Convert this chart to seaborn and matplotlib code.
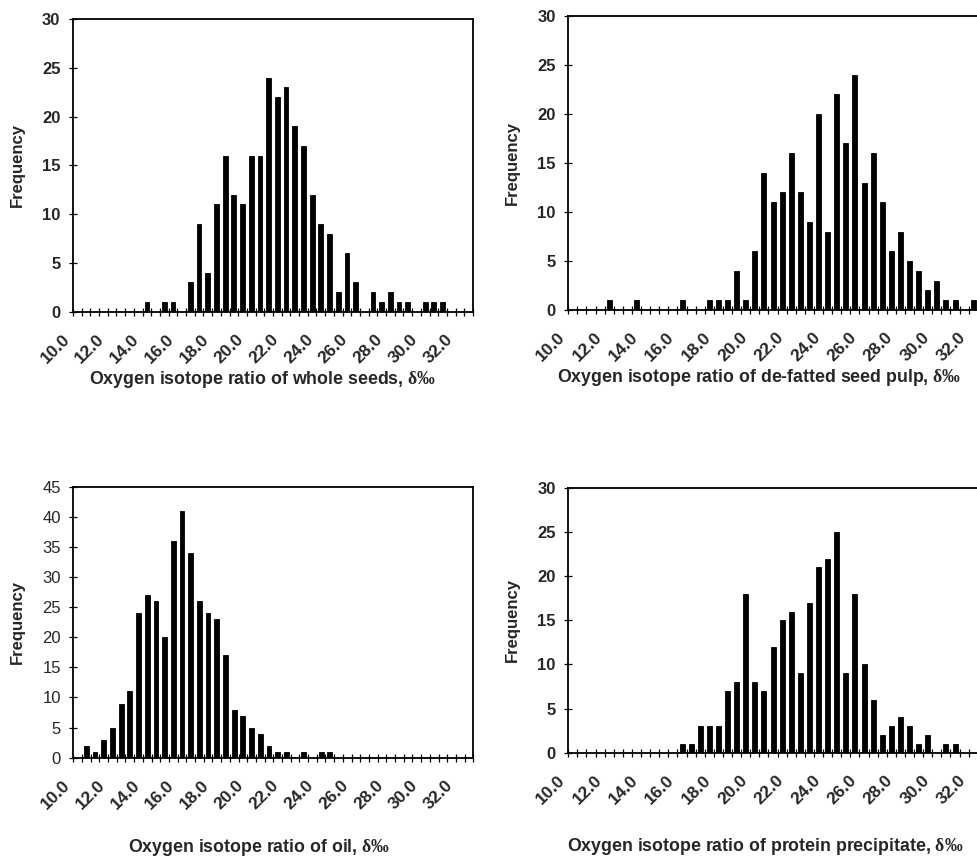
import matplotlib
matplotlib.use("Agg")
import matplotlib.pyplot as plt
import seaborn as sns
import pandas as pd
from matplotlib.transforms import ScaledTranslation

bins = ["10.0", "10.5", "11.0", "11.5", "12.0", "12.5", "13.0", "13.5", "14.0", "14.5",
        "15.0", "15.5", "16.0", "16.5", "17.0", "17.5", "18.0", "18.5", "19.0", "19.5",
        "20.0", "20.5", "21.0", "21.5", "22.0", "22.5", "23.0", "23.5", "24.0", "24.5",
        "25.0", "25.5", "26.0", "26.5", "27.0", "27.5", "28.0", "28.5", "29.0", "29.5",
        "30.0", "30.5", "31.0", "31.5", "32.0", "32.5"]

whole_seeds = [0, 0, 0, 0, 0, 0, 0, 0, 1, 0, 1, 1, 0, 3, 9, 4, 11, 16, 12, 11, 16, 16, 24, 22,
               23, 19, 17, 12, 9, 8, 2, 6, 3, 0, 2, 1, 2, 1, 1, 0, 1, 1, 1, 0, 0, 0]
defatted_pulp = [0, 0, 0, 0, 1, 0, 0, 1, 0, 0, 0, 0, 1, 0, 0, 1, 1, 1, 4, 1, 6, 14, 11, 12,
                 16, 12, 9, 20, 8, 22, 17, 24, 13, 16, 11, 6, 8, 5, 4, 2, 3, 1, 1, 0, 1, 0]
oil = [0, 2, 1, 3, 5, 9, 11, 24, 27, 26, 20, 36, 41, 34, 26, 24, 23, 17, 8, 7, 5, 4, 2, 1,
       1, 0, 1, 0, 1, 1, 0, 0, 0, 0, 0, 0, 0, 0, 0, 0, 0, 0, 0, 0, 0, 0]
protein = [0, 0, 0, 0, 0, 0, 0, 0, 0, 0, 0, 0, 1, 1, 3, 3, 3, 7, 8, 18, 8, 7, 12, 15,
           16, 9, 17, 21, 22, 25, 9, 18, 10, 6, 2, 3, 4, 3, 1, 2, 0, 1, 1, 0, 0, 0]

xlabels = ["Oxygen isotope ratio of whole seeds, $\\mathrm{δ‰}$",
           "Oxygen isotope ratio of de-fatted seed pulp, $\\mathrm{δ‰}$",
           "Oxygen isotope ratio of oil, $\\mathrm{δ‰}$",
           "Oxygen isotope ratio of protein precipitate, $\\mathrm{δ‰}$"]
series = [whole_seeds, defatted_pulp, oil, protein]
ymax = [30, 30, 45, 30]

sns.set_theme(style="white")
plt.rcParams["font.family"] = ["Liberation Sans", "DejaVu Sans"]
plt.rcParams["mathtext.fontset"] = "custom"
plt.rcParams["mathtext.rm"] = "Liberation Serif:bold"
plt.rcParams["mathtext.it"] = "Liberation Serif:bold"
plt.rcParams["mathtext.bf"] = "Liberation Serif:bold"

W, H = 978, 858
fig = plt.figure(figsize=(W / 100, H / 100), dpi=100)

# pixel boxes: left, top, right, bottom
boxes = [(73, 19, 473, 311.7),
         (568.3, 16, 986.9, 310),
         (73.3, 486.7, 473.3, 757.7),
         (568.3, 488, 986.9, 752.7)]
label_x = [0.475, 0.456, 0.464, 0.47]
label_drop = [57, 57, 79, 83]

for i, (vals, (l, t, r, b)) in enumerate(zip(series, boxes)):
    ax = fig.add_axes([l / W, 1 - b / H, (r - l) / W, (b - t) / H])
    df = pd.DataFrame({"bin": bins, "count": vals})
    sns.barplot(data=df, x="bin", y="count", order=bins, color="black",
                saturation=1, width=0.55, edgecolor="black", linewidth=0.6, ax=ax)
    ax.set_xlim(-0.5, len(bins) - 0.5)
    ax.set_ylim(0, ymax[i])
    ax.set_yticks(range(0, ymax[i] + 1, 5))
    ax.set_xticks(range(0, len(bins), 4))
    ax.set_xticklabels(bins[::4])
    ax.set_xticks([k - 0.5 for k in range(len(bins) + 1)], minor=True)
    ax.tick_params(axis="x", which="major", length=0, pad=18, labelsize=12.5)
    ax.tick_params(axis="x", which="minor", direction="inout", length=6, width=0.9,
                   color="black", bottom=True)
    ax.tick_params(axis="y", which="major", direction="inout", length=6, width=0.9,
                   color="black", left=True, pad=6, labelsize=12)
    off = ScaledTranslation(-10 / 100, 0, fig.dpi_scale_trans)
    for lab in ax.get_xticklabels():
        lab.set_rotation(45)
        lab.set_ha("right")
        lab.set_va("center")
        lab.set_rotation_mode("anchor")
        lab.set_fontweight("bold")
        lab.set_transform(lab.get_transform() + off)
    for lab in ax.get_yticklabels():
        lab.set_fontweight("normal" if i == 2 else "bold")
    for sp in ax.spines.values():
        sp.set_visible(True)
        sp.set_color("black")
        sp.set_linewidth(1.3)
    ax.grid(False)
    ax.set_ylabel("Frequency", fontsize=12, fontweight="bold")
    ax.yaxis.set_label_coords(-48 / (r - l), 0.5)
    ax.set_xlabel(xlabels[i], fontsize=12.8, fontweight="bold")
    ax.xaxis.set_label_coords(label_x[i], -label_drop[i] / (b - t))
    ax.xaxis.label.set_va("top")

fig.savefig("out.png", dpi=100)
